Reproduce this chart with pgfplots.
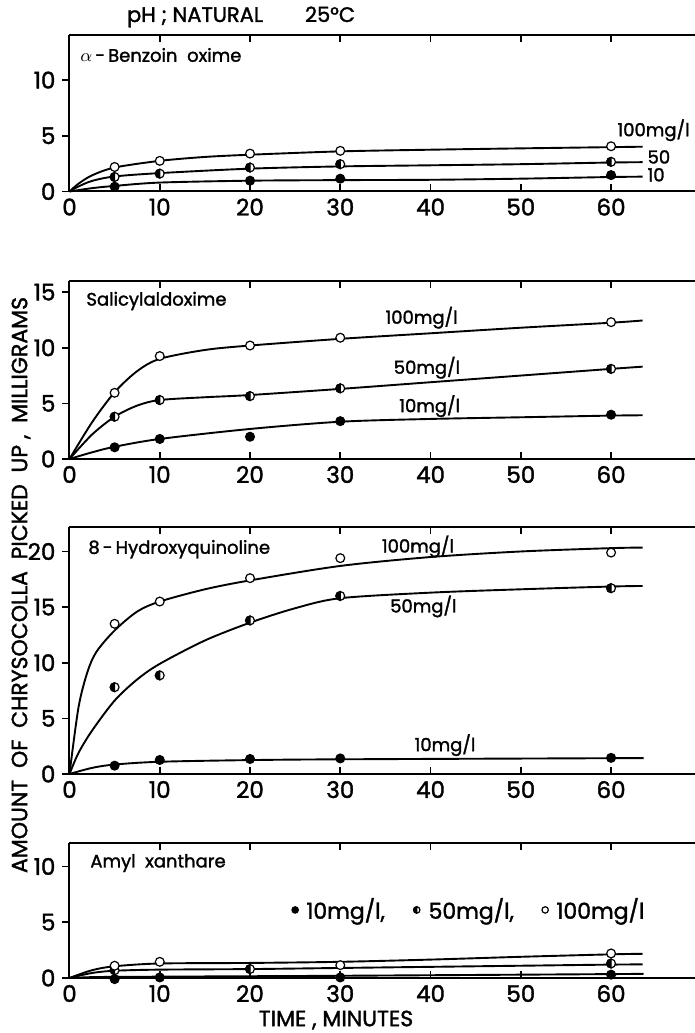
\documentclass[border=0pt]{standalone}
\usepackage{fontspec}
\setmainfont{Poppins}[BoldFont=Poppins, BoldFeatures={FakeBold=1.6}]
\usepackage{pgfplots}
\pgfplotsset{compat=1.18}

% left half black, right half white
\pgfdeclareplotmark{halfleft}{%
  \pgfpathcircle{\pgfpointorigin}{\pgfplotmarksize}%
  \pgfsetfillcolor{white}\pgfusepath{fill,stroke}%
  \pgfpathmoveto{\pgfpoint{0pt}{\pgfplotmarksize}}%
  \pgfpatharc{90}{270}{\pgfplotmarksize}%
  \pgfpathclose
  \pgfsetfillcolor{black}\pgfusepath{fill,stroke}}

\tikzset{lab/.style={font=\fontsize{9}{11}\selectfont\bfseries, inner sep=0pt}}

\pgfplotsset{
  panel/.style={
    scale only axis, width=312.75pt,
    xmin=0, xmax=69.3, ymin=0,
    axis x line*=box, axis y line*=left,
    xtick={0,10,...,60}, ytick distance=5,
    xtick align=inside, ytick align=outside,
    major tick length=3.5pt,
    axis line style={line width=1pt},
    every tick/.style={black, line width=0.8pt},
    ticklabel style={font=\fontsize{11.5}{13}\selectfont\bfseries},
    /pgf/number format/assume math mode=true,
    clip=false, anchor=south west,
  },
  curve/.style={black, line width=0.95pt, smooth, no marks},
  c10/.style={black, only marks, mark=*, mark size=2.2pt, mark options={line width=0.6pt, fill=black}},
  c50/.style={black, only marks, mark=halfleft, mark size=2.2pt, mark options={line width=0.6pt}},
  c100/.style={black, only marks, mark=*, mark size=2.2pt, mark options={line width=0.6pt, fill=white}},
}

\begin{document}
\begin{tikzpicture}

\node[anchor=west, font=\fontsize{10.5}{12}\selectfont\bfseries] at (60pt,508pt) {pH ; NATURAL\hspace{2em}25°C};

% alpha-Benzoin oxime
\begin{axis}[panel, at={(34.75pt,420.75pt)}, height=78pt, ymax=14]
\addplot[curve] coordinates {(0,0)(1,0.7)(2.5,1.45)(5,2.15)(10,2.75)(15,3.1)(20,3.3)(30,3.6)(40,3.75)(50,3.87)(60,3.98)(63.5,4.02)};
\addplot[curve] coordinates {(0,0)(1,0.45)(2.5,0.95)(5,1.35)(10,1.65)(20,2.05)(30,2.25)(40,2.35)(50,2.45)(60,2.6)(63.5,2.63)};
\addplot[curve] coordinates {(0,0)(2.5,0.3)(5,0.5)(10,0.8)(20,0.97)(30,1.02)(40,1.05)(50,1.15)(60,1.3)(63.5,1.33)};
\addplot[c100] coordinates {(5,2.2)(10,2.75)(20,3.4)(30,3.65)(60,4.06)};
\addplot[c50] coordinates {(5,1.3)(10,1.6)(20,2.15)(30,2.45)(60,2.66)};
\addplot[c10] coordinates {(5,0.43)(20,0.97)(30,1.15)(60,1.47)};
\node[lab, anchor=west] at (axis cs:1.16,12.25) {$\alpha$\,-\,Benzoin\ \ oxime};
\node[lab] at (axis cs:64.7,5.5) {100mg/l};
\node[lab, anchor=west] at (axis cs:64,3.1) {50};
\node[lab, anchor=west] at (axis cs:64,1.5) {10};
\end{axis}

% Salicylaldoxime
\begin{axis}[panel, at={(34.75pt,287pt)}, height=89pt, ymax=16]
\addplot[curve] coordinates {(0,0)(2.5,3.3)(5,6.0)(7.5,7.9)(10,9.0)(15,9.8)(20,10.2)(30,10.8)(40,11.3)(50,11.8)(60,12.25)(63.5,12.45)};
\addplot[curve] coordinates {(0,0)(2.5,2.2)(5,3.8)(7.5,4.8)(10,5.3)(15,5.55)(20,5.75)(30,6.3)(40,6.9)(50,7.5)(60,8.1)(63.5,8.3)};
\addplot[curve] coordinates {(0,0)(2.5,0.6)(5,1.1)(10,1.8)(20,2.7)(30,3.35)(40,3.6)(50,3.75)(60,3.9)(63.5,3.93)};
\addplot[c100] coordinates {(5,5.95)(10,9.25)(20,10.2)(30,10.9)(60,12.3)};
\addplot[c50] coordinates {(5,3.8)(10,5.3)(20,5.65)(30,6.35)(60,8.1)};
\addplot[c10] coordinates {(5,1.05)(10,1.8)(20,2.0)(30,3.4)(60,3.98)};
\node[lab, anchor=west] at (axis cs:1.83,14.2) {Salicylaldoxime};
\node[lab] at (axis cs:39,12.7) {100mg/l};
\node[lab] at (axis cs:39.6,8.2) {50mg/l};
\node[lab] at (axis cs:39.9,4.75) {10mg/l};
\end{axis}

% 8-Hydroxyquinoline
\begin{axis}[panel, at={(34.75pt,129.5pt)}, height=123.5pt, ymax=22.2]
\addplot[curve] coordinates {(0,0)(1,6)(2,9.2)(3,11.0)(5,12.9)(7.5,14.6)(10,15.5)(15,16.6)(20,17.4)(30,18.7)(40,19.5)(50,20.0)(60,20.3)(63.5,20.35)};
\addplot[curve] coordinates {(0,0)(1,1.9)(2.5,3.9)(5,6.6)(7.5,8.5)(10,9.9)(15,12.0)(20,13.6)(25,14.9)(30,15.8)(40,16.3)(50,16.6)(60,16.85)(63.5,16.9)};
\addplot[curve] coordinates {(0,0)(2.5,0.55)(5,0.85)(10,1.1)(20,1.25)(30,1.32)(60,1.42)(63.5,1.43)};
\addplot[c100] coordinates {(5,13.5)(10,15.5)(20,17.6)(30,19.4)(60,19.9)};
\addplot[c50] coordinates {(5,7.8)(10,8.86)(20,13.8)(30,16.0)(60,16.7)};
\addplot[c10] coordinates {(5,0.75)(10,1.26)(20,1.35)(30,1.4)(60,1.45)};
\node[lab, anchor=west] at (axis cs:2.05,20.2) {8\,-\,Hydroxyquinoline};
\node[lab] at (axis cs:38.6,20.45) {100mg/l};
\node[lab] at (axis cs:39.2,15.06) {50mg/l};
\node[lab] at (axis cs:41.6,2.6) {10mg/l};
\end{axis}

% Amyl xanthare
\begin{axis}[panel, at={(34.75pt,27.5pt)}, height=67.5pt, ymax=12.1,
  legend columns=3,
  legend style={draw=none, fill=none, at={(axis cs:24.6,6.1)}, anchor=west, inner sep=0pt,
    font=\fontsize{11}{13}\selectfont\bfseries,
    /tikz/every odd column/.append style={column sep=2pt},
    /tikz/every even column/.append style={column sep=12pt}},
  legend image code/.code={\draw[#1] plot coordinates {(0pt,0pt)};},
  legend image post style={mark size=1.6pt}]
\addplot[curve, forget plot] coordinates {(0,0)(2.5,0.7)(5,1.05)(10,1.3)(20,1.35)(30,1.45)(40,1.65)(50,1.9)(60,2.12)(63.5,2.17)};
\addplot[curve, forget plot] coordinates {(0,0)(2.5,0.45)(5,0.65)(10,0.75)(20,0.8)(30,0.9)(40,1.0)(50,1.1)(60,1.2)(63.5,1.22)};
\addplot[curve, forget plot] coordinates {(0,0)(2.5,0.08)(5,0.1)(10,0.12)(30,0.2)(60,0.35)(63.5,0.38)};
\addplot[c10] coordinates {(5,-0.1)(10,0.05)(30,0.05)(60,0.3)};
\addplot[c50] coordinates {(5,0.7)(20,0.8)(60,1.3)};
\addplot[c100] coordinates {(5,1.1)(10,1.45)(30,1.15)(60,2.2)};
\legend{10mg/l{,}, 50mg/l{,}, 100mg/l}
\node[lab, anchor=west] at (axis cs:2.27,10.3) {Amyl\ \ xanthare};
\end{axis}

\node[rotate=90, font=\fontsize{11}{13}\selectfont\bfseries] at (10.5pt,224pt) {AMOUNT\ \ OF\ \ CHRYSOCOLLA\ \ PICKED\ \ UP\ ,\ \ MILLIGRAMS};
\node[font=\fontsize{11}{13}\selectfont\bfseries] at (168pt,6.5pt) {TIME , MINUTES};

\pgfresetboundingbox
\path (0,0) rectangle (347.5pt,516.5pt);
\end{tikzpicture}
\end{document}
